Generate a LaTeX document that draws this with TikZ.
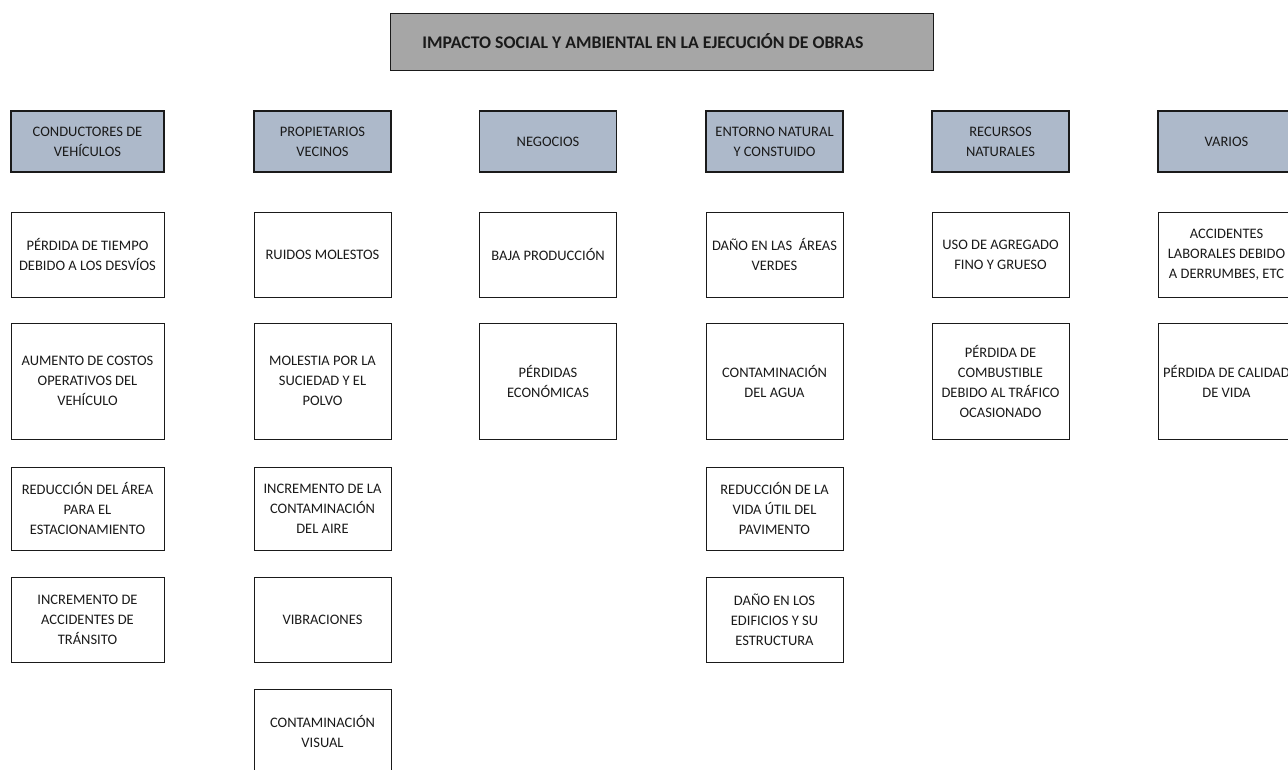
\documentclass[tikz,border=0pt]{standalone}
\usepackage{fontspec}
\setmainfont{Carlito}
\usepackage{tikz}
\definecolor{titlegray}{HTML}{A6A6A6}
\definecolor{headblue}{HTML}{ADB9CA}
\definecolor{ink}{HTML}{1A1A1A}
\tikzset{
  titlebox/.style={draw=ink, line width=0.8pt, fill=titlegray, text=ink, inner sep=0pt,
    minimum width=543pt, minimum height=57pt, font=\fontsize{17.75}{22}\selectfont\bfseries},
  headbox/.style={draw=ink, line width=1.6pt, fill=headblue, text=ink, inner sep=0pt, align=center,
    minimum width=137pt, minimum height=61pt, font=\fontsize{14.5}{20}\selectfont},
  itembox/.style={draw=ink, line width=0.8pt, fill=white, text=ink, inner sep=0pt, align=center,
    minimum width=137pt, font=\fontsize{14.5}{20}\selectfont},
  wide/.style={minimum width=153pt}
}
\begin{document}
\begin{tikzpicture}[x=1pt,y=-1pt]
  \useasboundingbox (0,0) rectangle (1288,769);
  \clip (0,0) rectangle (1288,769);

  % title
  \node[titlebox] (titulo) at (661.5,41.5) {IMPACTO SOCIAL Y AMBIENTAL EN LA EJECUCIÓN DE OBRAS\hspace*{37pt}};

  % column headers
  \node[headbox, wide] (cond) at (87.5,141.5) {CONDUCTORES DE\\VEHÍCULOS};
  \node[headbox] (prop) at (322.5,141.5) {PROPIETARIOS\\VECINOS};
  \node[headbox] (neg) at (548,141.5) {NEGOCIOS};
  \node[headbox] (ent) at (774.5,141.5) {ENTORNO NATURAL\\Y CONSTUIDO};
  \node[headbox] (rec) at (1000.5,141.5) {RECURSOS\\NATURALES};
  \node[headbox] (var) at (1226.5,141.5) {VARIOS};

  % conductores de vehiculos
  \node[itembox, wide, minimum height=85pt] (cond1) at (87.5,254.5) {PÉRDIDA DE TIEMPO\\DEBIDO A LOS DESVÍOS};
  \node[itembox, wide, minimum height=116pt] (cond2) at (87.5,381) {AUMENTO DE COSTOS\\OPERATIVOS DEL\\VEHÍCULO};
  \node[itembox, wide, minimum height=83pt] (cond3) at (87.5,508.5) {REDUCCIÓN DEL ÁREA\\PARA EL\\ESTACIONAMIENTO};
  \node[itembox, wide, minimum height=85pt] (cond4) at (87.5,619.5) {INCREMENTO DE\\ACCIDENTES DE\\TRÁNSITO};

  % propietarios vecinos
  \node[itembox, minimum height=85pt] (prop1) at (322.5,254.5) {RUIDOS MOLESTOS};
  \node[itembox, minimum height=116pt] (prop2) at (322.5,381) {MOLESTIA POR LA\\SUCIEDAD Y EL\\POLVO};
  \node[itembox, minimum height=83pt] (prop3) at (322.5,508.5) {INCREMENTO DE LA\\CONTAMINACIÓN\\DEL AIRE};
  \node[itembox, minimum height=85pt] (prop4) at (322.5,619.5) {VIBRACIONES};
  \node[itembox, minimum height=85pt] (prop5) at (322.5,731.5) {CONTAMINACIÓN\\VISUAL};

  % negocios
  \node[itembox, minimum height=85pt] (neg1) at (548,254.5) {BAJA PRODUCCIÓN};
  \node[itembox, minimum height=116pt] (neg2) at (548,381) {PÉRDIDAS\\ECONÓMICAS};

  % entorno natural y construido
  \node[itembox, minimum height=85pt] (ent1) at (774.5,254.5) {DAÑO EN LAS\ \ ÁREAS\\VERDES};
  \node[itembox, minimum height=116pt] (ent2) at (774.5,381) {CONTAMINACIÓN\\DEL AGUA};
  \node[itembox, minimum height=83pt] (ent3) at (774.5,508.5) {REDUCCIÓN DE LA\\VIDA ÚTIL DEL\\PAVIMENTO};
  \node[itembox, minimum height=85pt] (ent4) at (774.5,619.5) {DAÑO EN LOS\\EDIFICIOS Y SU\\ESTRUCTURA};

  % recursos naturales
  \node[itembox, minimum height=85pt] (rec1) at (1000.5,254.5) {USO DE AGREGADO\\FINO Y GRUESO};
  \node[itembox, minimum height=116pt] (rec2) at (1000.5,381) {PÉRDIDA DE\\COMBUSTIBLE\\DEBIDO AL TRÁFICO\\OCASIONADO};

  % varios
  \node[itembox, minimum height=85pt] (var1) at (1226.5,254.5) {ACCIDENTES\\LABORALES DEBIDO\\A DERRUMBES, ETC};
  \node[itembox, minimum height=116pt] (var2) at (1226.5,381) {PÉRDIDA DE CALIDAD\\DE VIDA};
\end{tikzpicture}
\end{document}
